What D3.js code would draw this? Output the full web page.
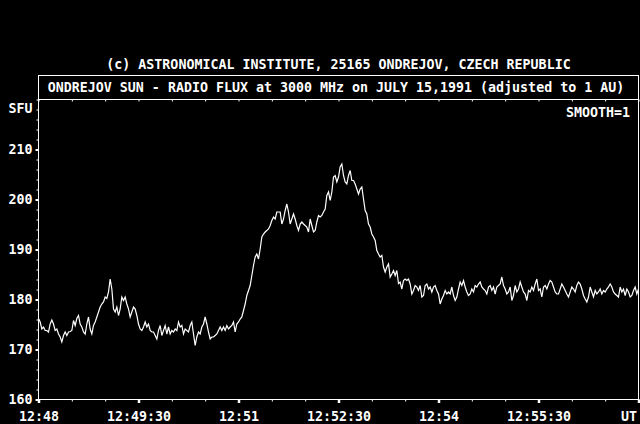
<!DOCTYPE html>
<html>
<head>
<meta charset="utf-8">
<script src="https://cdn.jsdelivr.net/npm/d3@7"></script>
<style>
  html, body { margin: 0; padding: 0; background: #000; }
  svg { display: block; }
  text { font-family: "DejaVu Sans Mono", "Liberation Mono", monospace; font-size: 13.3px; font-weight: bold; fill: #fff; }
</style>
</head>
<body>
<svg id="chart" width="640" height="424"></svg>
<script>
// radio flux samples, one every 1.5 s starting 12:48:00 UT
const fluxPart1 = [176.2,175.5,174.1,174.5,173.8,173.8,173.5,175.1,175.9,175.1,
  173.8,174.1,173.1,172.5,171.5,172.8,173.5,172.8,173.5,173.6,
  173.8,175.8,174.8,176.2,176.8,175.1,174.5,173.5,173.1,175.1,
  176.5,174.1,173.1,174.8,175.5,176.5,177.5,178.5,179.1,179.5,
  180.5,180.2,181.5,184.1,182.1,178.1,177.5,178.5,176.8,178.1,
  180.5,179.8,180.5,179.1,178.1,176.5,177.5,178.5,178.1,176.8,
  175.1,174.1,173.8,174.5,175.5,174.5,175.1,173.8,173.5,173.5,
  172.8,172.1,173.8];
const fluxPart2 = [174.8,172.8,173.8,174.8,173.1,174.5,173.1,173.8,173.5,174.1,
  173.8,175.5,174.5,174.8,173.1,174.1,173.8,173.5,174.8,175.5,
  173.1,170.8,172.5,173.5,173.1,174.5,175.1,176.5,175.1,173.5,
  172.1,172.5,172.5,172.8,173.1,173.8,174.5,173.8,174.5,173.8,
  174.8,174.1,174.5,174.8,175.5,173.5,175.1,175.5,176.1,176.5,
  177.8,179.1,180.8,181.8,182.8,184.8,186.8,188.5,189.1,188.1,
  190.1,192.5,193.1,193.5,193.8,194.1,194.8,195.8,196.5,196.1,
  197.5,197.5];
const fluxPart3 = [197.5,195.1,196.1,197.8,199.1,197.5,195.1,196.1,197.1,196.1,
  194.8,193.8,195.1,195.5,195.1,194.8,194.5,193.5,196.1,194.8,
  193.5,193.8,195.5,196.8,196.5,196.8,197.5,198.1,200.8,201.5,
  199.8,201.5,204.5,204.8,203.5,204.5,206.5,207.1,204.8,203.5,
  203.1,204.8,205.8,203.8,203.8,203.1,202.1,201.1,202.1,202.5,
  200.1,197.8,197.1,195.1,194.5,193.1,192.5,191.8,189.8,189.1,
  188.5,188.8,186.5,185.5,186.5,187.1,184.5,185.1,185.8,184.8,
  185.8,183.2];
const fluxPart4 = [183.5,182.1,183.8,184.1,183.8,184.1,183.1,181.1,181.8,182.8,
  182.5,181.8,182.8,180.5,180.8,182.8,183.1,182.1,182.5,181.5,
  182.5,182.8,181.8,181.1,179.1,180.1,180.8,181.8,181.1,181.5,
  181.1,182.5,180.8,179.8,180.5,182.1,183.5,182.8,183.8,182.5,
  181.5,180.8,181.1,182.1,181.5,182.8,182.5,183.1,183.5,182.5,
  182.1,181.8,181.1,182.5,182.8,181.8,182.5,181.1,182.5,182.8,
  183.1,184.5,182.8,182.1,181.1,181.5,182.5,179.8,180.8,182.8,
  181.5,182.1];
const fluxPart5 = [183.5,182.5,181.5,181.1,179.8,181.8,181.5,182.5,181.8,183.1,
  184.1,181.8,182.1,180.5,182.5,182.8,182.1,183.1,183.8,183.5,
  182.5,181.5,181.1,181.1,182.1,183.1,182.5,181.8,181.1,180.5,
  181.5,182.5,182.1,181.5,182.8,183.5,183.1,182.1,180.8,180.1,
  179.5,180.5,182.5,181.5,180.5,181.8,181.1,181.5,182.1,181.1,
  181.8,181.5,182.1,182.5,183.1,182.5,181.5,181.1,180.8,180.5,
  182.5,181.5,182.1,180.8,182.1,181.5,180.5,180.8,181.8,182.5,
  181.1,182.1];
const flux = [].concat(fluxPart1, fluxPart2, fluxPart3, fluxPart4, fluxPart5);

const startTime = new Date(Date.UTC(1991, 6, 15, 12, 48, 0));
const endTime = new Date(Date.UTC(1991, 6, 15, 12, 57, 0));
const stepSec = 1.5;

const yLabels = [160, 170, 180, 190, 200, 210];
const xLabelSec = [0, 90, 180, 270, 360, 450];

const copyright = "(c) ASTRONOMICAL INSTITUTE, 25165 ONDREJOV, CZECH REPUBLIC";
const title = "ONDREJOV SUN - RADIO FLUX at 3000 MHz on JULY 15,1991 (adjusted to 1 AU)";

const svg = d3.select("#chart");
const plotLeft = 38.5, plotRight = 638.5, plotTop = 99.5, plotBottom = 399.5;

const x = d3.scaleUtc().domain([startTime, endTime]).range([plotLeft, plotRight]);
const y = d3.scaleLinear().domain([160, 220]).range([plotBottom, plotTop]);

const secToDate = (s) => new Date(startTime.getTime() + s * 1000);

// header texts
svg.append("text")
  .attr("x", 338.5).attr("y", 69)
  .attr("text-anchor", "middle")
  .text(copyright);

svg.append("rect")
  .attr("x", plotLeft).attr("y", 75.5)
  .attr("width", plotRight - plotLeft).attr("height", plotTop - 75.5)
  .attr("fill", "none").attr("stroke", "#fff");

svg.append("text")
  .attr("x", 336).attr("y", 92)
  .attr("text-anchor", "middle")
  .text(title);

// plot frame
svg.append("rect")
  .attr("x", plotLeft).attr("y", plotTop)
  .attr("width", plotRight - plotLeft).attr("height", plotBottom - plotTop)
  .attr("fill", "none").attr("stroke", "#fff");

// minor time ticks every 30 s, top and bottom
const minorSec = d3.range(0, 541, 30);
const minorX = d3.axisBottom(x)
  .tickValues(minorSec.map(secToDate))
  .tickSize(2)
  .tickFormat("");

svg.append("g").attr("transform", `translate(0,${plotBottom})`).call(minorX);
svg.append("g").attr("transform", `translate(0,${plotTop})`).call(minorX);

// labelled time ticks
const fmt = (d) => d.getUTCSeconds() === 0 ? d3.utcFormat("%H:%M")(d) : d3.utcFormat("%H:%M:%S")(d);
const xAxis = d3.axisBottom(x)
  .tickValues(xLabelSec.concat([540]).map(secToDate))
  .tickSize(3.5)
  .tickPadding(9)
  .tickFormat((d, i) => i === xLabelSec.length ? "" : fmt(d));

const gx = svg.append("g").attr("transform", `translate(0,${plotBottom})`).call(xAxis);

svg.append("text")
  .attr("x", 637).attr("y", 421)
  .attr("text-anchor", "end")
  .text("UT");

// minor flux ticks every 2 SFU
const yMinor = d3.axisLeft(y)
  .tickValues(d3.range(160, 221, 2))
  .tickSize(2)
  .tickFormat("");
svg.append("g").attr("transform", `translate(${plotLeft},0)`).call(yMinor);

const yAxis = d3.axisLeft(y)
  .tickValues(yLabels)
  .tickSize(3)
  .tickPadding(3);
const gy = svg.append("g").attr("transform", `translate(${plotLeft},0)`).call(yAxis);

svg.selectAll(".domain").remove();
svg.selectAll(".tick line").attr("stroke", "#fff");
gx.selectAll(".tick line").attr("stroke-width", 2.5);
gy.selectAll(".tick line").attr("stroke-width", 2);
svg.selectAll(".tick text")
  .attr("fill", "#fff")
  .style("font-family", "DejaVu Sans Mono")
  .style("font-size", "13.3px")
  .style("font-weight", "bold");
svg.selectAll("g").attr("font-family", null).attr("font-size", null);

svg.append("text")
  .attr("x", 32.5).attr("y", 113)
  .attr("text-anchor", "end")
  .text("SFU");

svg.append("text")
  .attr("x", 630).attr("y", 117)
  .attr("text-anchor", "end")
  .text("SMOOTH=1");

// flux trace
const line = d3.line()
  .x((d, i) => x(secToDate(i * stepSec)))
  .y((d) => y(d));

svg.append("path")
  .datum(flux)
  .attr("d", line)
  .attr("fill", "none")
  .attr("stroke", "#fff")
  .attr("stroke-width", 1.2);
</script>
</body>
</html>
